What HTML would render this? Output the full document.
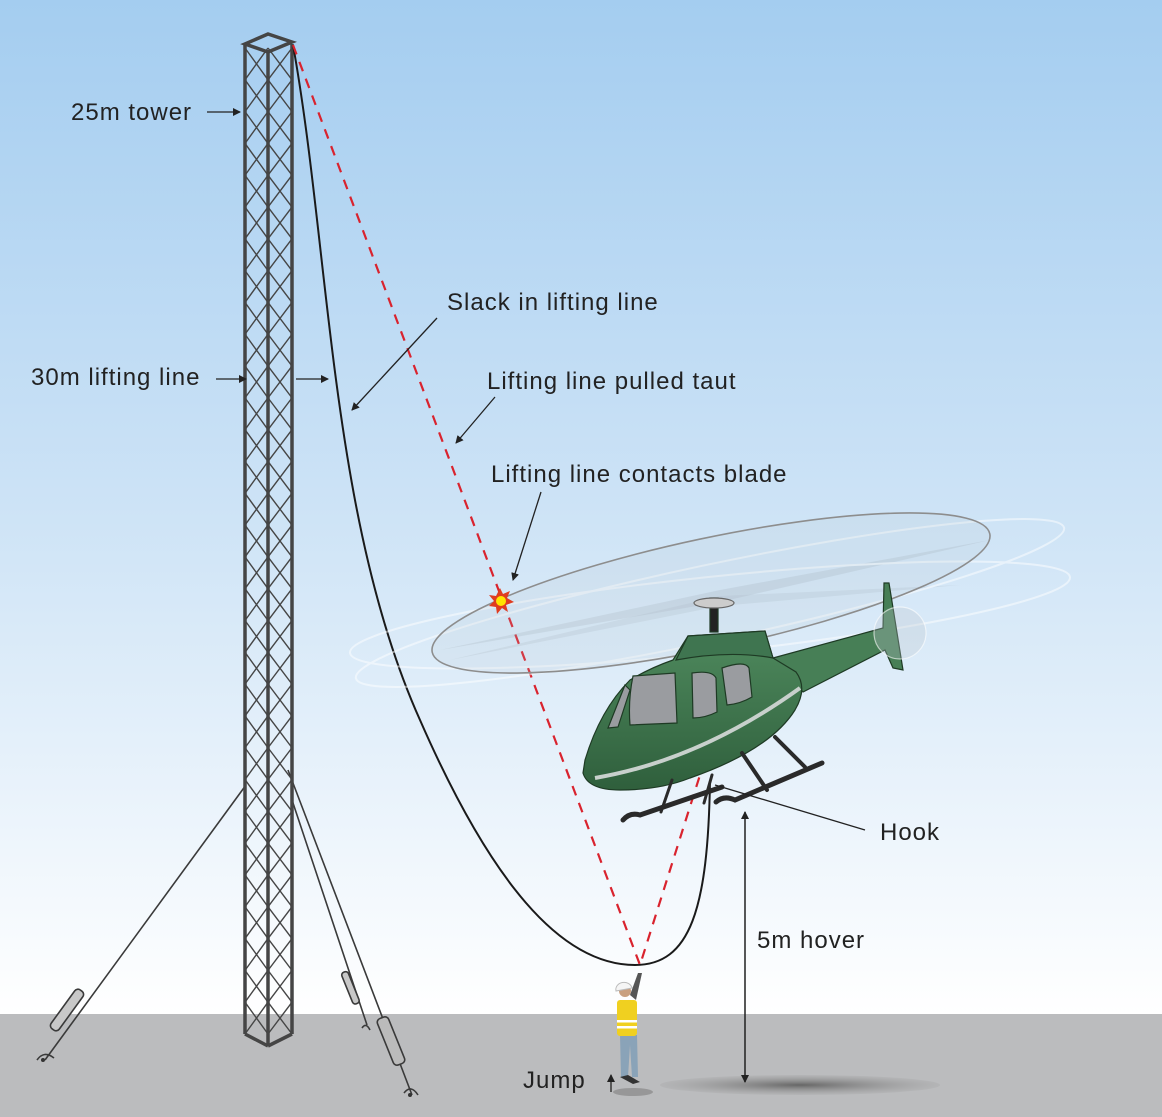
<!DOCTYPE html>
<html><head><meta charset="utf-8"><style>
html,body{margin:0;padding:0;width:1162px;height:1117px;overflow:hidden}
svg{display:block}
text{font-family:"Liberation Sans",sans-serif;font-size:24px;letter-spacing:1px;fill:#222}
</style></head><body>
<svg id="s" width="1162" height="1117" viewBox="0 0 1162 1117" xmlns="http://www.w3.org/2000/svg">
<defs>
<linearGradient id="sky" x1="0" y1="0" x2="0" y2="1">
<stop offset="0" stop-color="#a4cdf0"/><stop offset="0.5" stop-color="#cde3f6"/><stop offset="1" stop-color="#ffffff"/>
</linearGradient>
<linearGradient id="body" x1="0" y1="0" x2="0" y2="1">
<stop offset="0" stop-color="#4f8a5e"/><stop offset="1" stop-color="#2f5f3c"/>
</linearGradient>
<radialGradient id="shd"><stop offset="0" stop-color="#666"/><stop offset="1" stop-color="#999" stop-opacity="0.2"/></radialGradient>
<marker id="ah" markerWidth="8" markerHeight="8" refX="7" refY="4" orient="auto" markerUnits="userSpaceOnUse"><path d="M0,0 L8,4 L0,8 z" fill="#222"/></marker>
</defs>
<rect width="1162" height="1015" fill="url(#sky)"/>
<rect y="1014" width="1162" height="103" fill="#bbbcbe"/>
<ellipse cx="800" cy="1085" rx="140" ry="10" fill="url(#shd)"/>
<ellipse cx="633" cy="1092" rx="20" ry="4" fill="#888" opacity="0.7"/>

<g stroke="#3a3a3a" stroke-width="1.6" fill="none">
<line x1="246" y1="785" x2="45" y2="1060"/>
<line x1="292" y1="800" x2="367" y2="1025"/>
<line x1="288" y1="770" x2="412" y2="1095"/>
<rect x="62" y="986" width="10" height="48" rx="4" transform="rotate(36 67 1010)" fill="#c8c8c8"/>
<rect x="347" y="971" width="7" height="34" rx="3" transform="rotate(-22 350 988)" fill="#c8c8c8"/>
<rect x="385" y="1016" width="12" height="50" rx="4" transform="rotate(-22 391 1041)" fill="#bbb"/>
<path d="M37,1060 q7,-10 17,-2 M404,1093 q7,-9 14,2 M362,1028 q4,-6 8,2"/>
</g>
<circle cx="43" cy="1060" r="2" fill="#333"/><circle cx="410" cy="1095" r="2" fill="#333"/>

<g id="tower" stroke="#454545" fill="none"></g>

<path d="M293,45 C330,250 330,520 420,720 C490,880 560,965 635,965 C690,965 708,910 710,780" stroke="#1a1a1a" stroke-width="2" fill="none"/>
<polyline points="293,45 640,965 700,775" stroke="#d9232e" stroke-width="2.2" stroke-dasharray="10,8" fill="none"/>

<g opacity="0.5">
<path d="M440,650 L720,590 L990,540 L720,602 Z" fill="#8a96a0" opacity="0.35"/>
<path d="M450,660 L720,596 L960,585 L720,606 Z" fill="#8a96a0" opacity="0.3"/>
<ellipse cx="710" cy="603" rx="362" ry="38" transform="rotate(-12 710 603)" fill="none" stroke="#fff" stroke-width="2"/>
<ellipse cx="710" cy="615" rx="362" ry="38" transform="rotate(-6 710 615)" fill="none" stroke="#fff" stroke-width="2"/>
</g>
<ellipse cx="711" cy="593" rx="285" ry="55" transform="rotate(-12 711 593)" fill="#b8c4cc" fill-opacity="0.15" stroke="#8d8d8d" stroke-width="1.6"/>

<g stroke="#1e3a24" stroke-width="1.2">
<rect x="710" y="598" width="8" height="34" fill="#222"/>
<ellipse cx="714" cy="603" rx="20" ry="5" fill="#ccc" stroke="#666"/>
<path d="M773,658 L883,628 L884,583 L889,583 L903,670 L893,668 L885,650 L803,692 Z" fill="#477f56"/>
<circle cx="900" cy="633" r="26" fill="#bcc6cc" fill-opacity="0.3" stroke="#fff" stroke-opacity="0.6"/>
<path d="M583,773 Q588,790 620,790 Q660,790 690,778 Q770,750 795,710 Q808,688 796,672 L773,658 L765,631 L688,636 L673,660 Q650,668 630,680 Q600,710 585,760 Z" fill="url(#body)"/>
<path d="M688,636 L765,631 L773,658 Q730,650 676,660 Z" fill="#3f7550"/>
<path d="M595,778 Q700,760 800,688" stroke="#c8d0cc" stroke-width="4" fill="none"/>
<path d="M633,676 L675,673 L677,723 L630,725 Q628,700 633,676Z" fill="#9a9ca0"/>
<path d="M625,685 L630,690 L618,727 L608,728 Z" fill="#9a9ca0"/>
<path d="M692,673 Q712,670 716,678 L717,712 Q705,718 693,718 Z" fill="#9a9ca0"/>
<path d="M722,668 Q745,660 749,668 L752,697 Q740,704 727,705 Z" fill="#9a9ca0"/>
</g>
<g stroke="#2a2a2a" stroke-linecap="round" fill="none">
<line x1="672" y1="780" x2="661" y2="812" stroke-width="3"/>
<line x1="712" y1="775" x2="704" y2="803" stroke-width="3"/>
<line x1="742" y1="753" x2="767" y2="790" stroke-width="4"/>
<line x1="775" y1="737" x2="805" y2="767" stroke-width="4"/>
<path d="M623,820 Q630,812 640,815 L722,787" stroke-width="5"/>
<path d="M716,802 Q724,795 735,800 L822,763" stroke-width="5"/>
</g>

<g>
<path d="M620,1035 L621,1077 L628,1077 L630,1045 L632,1077 L638,1077 L637,1035 Z" fill="#8aa3b8"/>
<path d="M620,1077 L633,1084 L640,1082 L628,1075Z" fill="#333"/>
<path d="M630,995 L638,973 L642,973 L636,1000 Z" fill="#555"/>
<rect x="617" y="1000" width="20" height="36" rx="3" fill="#f0d020"/>
<rect x="617" y="1020" width="20" height="2.5" fill="#fff"/><rect x="617" y="1026" width="20" height="2.5" fill="#fff"/>
<circle cx="625" cy="991" r="6" fill="#c9a080"/>
<path d="M616,991 a8,7 0 0 1 16,-3 z" fill="#f5f5f5" stroke="#bbb"/>
</g>

<polygon points="500,588 503,594 510,591 507,598 514,602 506,605 508,612 502,608 497,614 496,607 489,606 494,601 489,595 496,596" fill="#e03c20"/>
<circle cx="501" cy="601" r="5" fill="#ffe500"/>

<g stroke="#222" stroke-width="1.3" fill="none">
<line x1="207" y1="112" x2="240" y2="112" marker-end="url(#ah)"/>
<line x1="216" y1="379" x2="246" y2="379" marker-end="url(#ah)"/>
<line x1="296" y1="379" x2="328" y2="379" marker-end="url(#ah)"/>
<line x1="437" y1="318" x2="352" y2="410" marker-end="url(#ah)"/>
<line x1="495" y1="397" x2="456" y2="443" marker-end="url(#ah)"/>
<line x1="541" y1="492" x2="513" y2="580" marker-end="url(#ah)"/>
<line x1="715" y1="785" x2="865" y2="830"/>
<line x1="745" y1="1082" x2="745" y2="812" marker-end="url(#ah)"/>
<line x1="745" y1="812" x2="745" y2="1082" marker-end="url(#ah)"/>
<line x1="611" y1="1092" x2="611" y2="1075" marker-end="url(#ah)"/>
</g>
<text x="71" y="120">25m tower</text>
<text x="31" y="385">30m lifting line</text>
<text x="447" y="310">Slack in lifting line</text>
<text x="487" y="389">Lifting line pulled taut</text>
<text x="491" y="482">Lifting line contacts blade</text>
<text x="880" y="840">Hook</text>
<text x="757" y="948">5m hover</text>
<text x="523" y="1088">Jump</text>
</svg>
<script>
(function(){
var g=document.getElementById('tower'),ns='http://www.w3.org/2000/svg';
function L(a,b,c,d,w){var l=document.createElementNS(ns,'line');l.setAttribute('x1',a);l.setAttribute('y1',b);l.setAttribute('x2',c);l.setAttribute('y2',d);l.setAttribute('stroke-width',w);g.appendChild(l);}
var t0=48,bt=1034,n=31,h=(bt-t0)/n;
for(var i=0;i<n;i++){var y=t0+i*h;L(245,y,268,y+h,1.4);L(268,y,245,y+h,1.4);L(268,y,292,y+h,1.4);L(292,y,268,y+h,1.4);}
L(245,44,245,1034,3.5);L(268,50,268,1046,3.5);L(292,44,292,1034,3.5);
L(245,1034,268,1046,3.5);L(268,1046,292,1034,3.5);
var p=document.createElementNS(ns,'polygon');p.setAttribute('points','245,44 268,34 292,42 268,52');p.setAttribute('stroke-width','3.5');g.appendChild(p);
})();
</script>
</body></html>
